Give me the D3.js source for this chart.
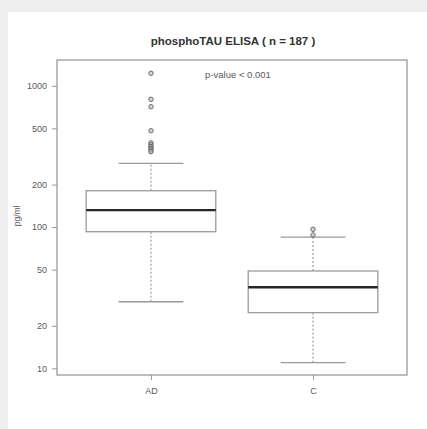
<!DOCTYPE html>
<html>
<head>
<meta charset="utf-8">
<script src="https://cdn.jsdelivr.net/npm/d3@7/dist/d3.min.js"></script>
<style>
  html, body { margin: 0; padding: 0; background: #efefef; }
  svg { display: block; }
</style>
</head>
<body>
<svg id="chart" width="427" height="429"></svg>
<script>
// Group summaries (pg/ml), one entry per group
const categories = ["AD", "C"];
const whiskerLow = [29.6, 10.96];
const q1 = [92.8, 24.8];
const median = [132, 37.5];
const q3 = [181, 48.9];
const whiskerHigh = [283, 85];
const outliersAD = [1228, 804, 712, 481, 395, 383, 372, 362, 352, 342];
const outliersC = [96.5, 88];
const yTicks = [10, 20, 50, 100, 200, 500, 1000];
const title = "phosphoTAU ELISA ( n = 187 )";
const annotation = "p-value < 0.001";
const yLabel = "pg/ml";

const outliers = [outliersAD, outliersC];

const svg = d3.select("#chart");
const W = 427, H = 429;
const plot = { left: 57, right: 407, top: 60, bottom: 375 };

// white page panel over the grey backdrop
svg.append("rect").attr("x", 8).attr("y", 12).attr("width", W - 8).attr("height", H - 12).attr("fill", "#ffffff");

const x = d3.scaleLinear().domain([0.42, 2.58]).range([plot.left, plot.right]);
const y = d3.scaleLog().domain([8.97, 1525]).range([plot.bottom, plot.top]);
const boxWex = 0.8;
const capWex = 0.4;

const axisColor = "#9a9a9a";
const textColor = "#5a5a5a";
const font = "Liberation Sans, Arial, sans-serif";

// y axis
const yAxis = d3.axisLeft(y).tickValues(yTicks).tickFormat(d3.format("d")).tickSize(5).tickPadding(5);
const gy = svg.append("g").attr("transform", `translate(${plot.left},0)`).call(yAxis);
gy.select(".domain").remove();
gy.selectAll(".tick line").attr("stroke", axisColor);
gy.selectAll(".tick text").attr("fill", textColor).attr("font-family", font).attr("font-size", 9);

// x axis
const xAxis = d3.axisBottom(x).tickValues([1, 2]).tickFormat((d, i) => categories[i]).tickSize(5).tickPadding(8);
const gx = svg.append("g").attr("transform", `translate(0,${plot.bottom})`).call(xAxis);
gx.select(".domain").remove();
gx.selectAll(".tick line").attr("stroke", axisColor);
gx.selectAll(".tick text").attr("fill", textColor).attr("font-family", font).attr("font-size", 9);

// plot frame
svg.append("rect")
  .attr("x", plot.left).attr("y", plot.top)
  .attr("width", plot.right - plot.left).attr("height", plot.bottom - plot.top)
  .attr("fill", "none").attr("stroke", axisColor).attr("stroke-width", 1.3);

// boxes
const groups = svg.selectAll("g.box").data(categories).enter().append("g").attr("class", "box");

groups.each(function (c, i) {
  const g = d3.select(this);
  const cx = x(i + 1);
  const halfBox = (x(1 + boxWex / 2) - x(1));
  const halfCap = (x(1 + capWex / 2) - x(1));

  // whiskers (dotted)
  g.append("line").attr("x1", cx).attr("x2", cx).attr("y1", y(q3[i])).attr("y2", y(whiskerHigh[i]))
    .attr("stroke", "#888").attr("stroke-dasharray", "2,2");
  g.append("line").attr("x1", cx).attr("x2", cx).attr("y1", y(q1[i])).attr("y2", y(whiskerLow[i]))
    .attr("stroke", "#888").attr("stroke-dasharray", "2,2");
  // caps
  [whiskerHigh[i], whiskerLow[i]].forEach(v => {
    g.append("line").attr("x1", cx - halfCap).attr("x2", cx + halfCap).attr("y1", y(v)).attr("y2", y(v))
      .attr("stroke", axisColor).attr("stroke-width", 1.3);
  });
  // box
  g.append("rect").attr("x", cx - halfBox).attr("width", 2 * halfBox)
    .attr("y", y(q3[i])).attr("height", y(q1[i]) - y(q3[i]))
    .attr("fill", "#fff").attr("stroke", axisColor).attr("stroke-width", 1.3);
  // median
  g.append("line").attr("x1", cx - halfBox).attr("x2", cx + halfBox).attr("y1", y(median[i])).attr("y2", y(median[i]))
    .attr("stroke", "#262626").attr("stroke-width", 2.4);
  // outliers
  g.selectAll("circle").data(outliers[i]).enter().append("circle")
    .attr("cx", cx).attr("cy", d => y(d)).attr("r", 2.2)
    .attr("fill", "#bbb").attr("fill-opacity", 0.6).attr("stroke", "#666").attr("stroke-width", 1);
});

// title
svg.append("text").attr("x", (plot.left + plot.right) / 2 + 1).attr("y", 45)
  .attr("text-anchor", "middle").attr("font-family", font).attr("font-weight", "bold")
  .attr("font-size", 11.5).attr("fill", "#333").text(title);

// annotation
svg.append("text").attr("x", 238).attr("y", 78)
  .attr("text-anchor", "middle").attr("font-family", font)
  .attr("font-size", 9.5).attr("fill", textColor).text(annotation);

// y label
svg.append("text").attr("transform", `translate(20,${y(120)}) rotate(-90)`)
  .attr("text-anchor", "middle").attr("font-family", font)
  .attr("font-size", 8.5).attr("fill", textColor).text(yLabel);
</script>
</body>
</html>
